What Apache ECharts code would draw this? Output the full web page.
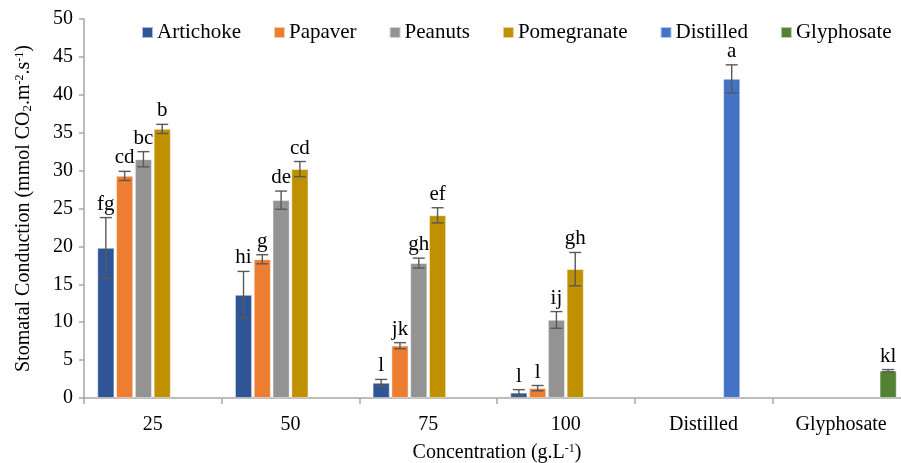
<!DOCTYPE html>
<html>
<head>
<meta charset="utf-8">
<script src="https://cdn.jsdelivr.net/npm/echarts@6/dist/echarts.min.js"></script>
<style>
  html, body { margin: 0; padding: 0; background: #fff; }
  #chart { width: 901px; height: 463px; }
</style>
</head>
<body>
<div id="chart"></div>
<script>
// data
const categories = ['25', '50', '75', '100', 'Distilled', 'Glyphosate']
const seriesNames = ['Artichoke', 'Papaver', 'Peanuts', 'Pomegranate', 'Distilled', 'Glyphosate']
const artichoke = [19.8, 13.6, 2.0, 0.7, null, null]
const papaver = [29.3, 18.3, 6.9, 1.3, null, null]
const peanuts = [31.5, 26.1, 17.8, 10.3, null, null]
const pomegranate = [35.5, 30.2, 24.1, 17.0, null, null]
const distilled = [null, null, null, null, 42.1, null]
const glyphosate = [null, null, null, null, null, 3.6]
const artichokeErr = [4.0, 3.1, 0.45, 0.4, null, null]
const papaverErr = [0.6, 0.6, 0.4, 0.35, null, null]
const peanutsErr = [1.0, 1.2, 0.65, 1.1, null, null]
const pomegranateErr = [0.6, 1.0, 1.0, 2.2, null, null]
const distilledErr = [null, null, null, null, 1.85, null]
const glyphosateErr = [null, null, null, null, null, 0.15]
const artichokeLetters = ['fg', 'hi', 'l', 'l', '', '']
const papaverLetters = ['cd', 'g', 'jk', 'l', '', '']
const peanutsLetters = ['bc', 'de', 'gh', 'ij', '', '']
const pomegranateLetters = ['b', 'cd', 'ef', 'gh', '', '']
const distilledLetters = ['', '', '', '', 'a', '']
const glyphosateLetters = ['', '', '', '', '', 'kl']

const values = [artichoke, papaver, peanuts, pomegranate, distilled, glyphosate]
const errors = [artichokeErr, papaverErr, peanutsErr, pomegranateErr, distilledErr, glyphosateErr]
const letters = [artichokeLetters, papaverLetters, peanutsLetters, pomegranateLetters, distilledLetters, glyphosateLetters]
const colors = ['#2F5597', '#ED7D31', '#939393', '#BF9000', '#4472C4', '#548235']

const FONT = '"Liberation Serif", "Times New Roman", serif'
const CAT_GAP = 0.194
const BAR_GAP = 0.106
const N = seriesNames.length

const chart = echarts.init(document.getElementById('chart'))

function errorItem (idx) {
  return function (params, api) {
    const v = api.value(1)
    const e = api.value(2)
    if (v == null || isNaN(v)) return null
    const band = api.size([1, 0])[0]
    const barW = band * (1 - CAT_GAP) / (N + (N - 1) * BAR_GAP)
    const pitch = barW * (1 + BAR_GAP)
    const c = api.coord([api.value(0), v])
    const x = c[0] + (idx - (N - 1) / 2) * pitch
    const top = api.coord([api.value(0), v + e])[1]
    const bot = api.coord([api.value(0), v - e])[1]
    const half = 6
    const st = { stroke: '#595959', lineWidth: 1.4 }
    const txt = letters[idx][params.dataIndex]
    return {
      type: 'group',
      children: [
        { type: 'line', shape: { x1: x, y1: top, x2: x, y2: bot }, style: st },
        { type: 'line', shape: { x1: x - half, y1: top, x2: x + half, y2: top }, style: st },
        { type: 'line', shape: { x1: x - half, y1: bot, x2: x + half, y2: bot }, style: st },
        {
          type: 'text',
          x: x,
          y: top - 3,
          style: { text: txt, font: '21px ' + FONT, fill: '#000', align: 'center', verticalAlign: 'bottom' }
        }
      ]
    }
  }
}

const barSeries = seriesNames.map((name, i) => ({
  name: name,
  type: 'bar',
  data: values[i],
  barGap: (BAR_GAP * 100) + '%',
  barCategoryGap: (CAT_GAP * 100) + '%',
  itemStyle: { color: colors[i], borderColor: 'rgba(255,255,255,0.6)', borderWidth: 0.8 },
  z: 2
}))

const errSeries = seriesNames.map((name, i) => ({
  type: 'custom',
  name: name + ' err',
  renderItem: errorItem(i),
  data: categories.map((c, k) => [k, values[i][k], errors[i][k]]),
  encode: { x: 0, y: 1 },
  z: 5,
  silent: true
}))

const option = {
  backgroundColor: '#fff',
  animation: false,
  color: colors,
  textStyle: { fontFamily: FONT },
  legend: {
    data: seriesNames,
    left: 136,
    top: 17,
    width: 800,
    itemWidth: 11,
    itemHeight: 11,
    itemGap: 32,
    icon: 'rect',
    textStyle: { fontFamily: FONT, fontSize: 21, color: '#000', padding: [0, 0, 0, -1] }
  },
  grid: { left: 84, top: 19, width: 826, height: 379, outerBoundsMode: 'none' },
  xAxis: {
    type: 'category',
    data: categories,
    name: 'Concentration (g.L{sup|-1})',
    nameLocation: 'middle',
    nameGap: 45,
    nameTextStyle: {
      fontFamily: FONT, fontSize: 20, color: '#000',
      rich: { sup: { fontFamily: FONT, fontSize: 12, color: '#000', verticalAlign: 'top', padding: [0, 0, 8, 0] } }
    },
    axisLine: { lineStyle: { color: '#A6A6A6', width: 1.5 } },
    axisTick: { show: true, length: 6, lineStyle: { color: '#A6A6A6', width: 1.5 } },
    axisLabel: { fontFamily: FONT, fontSize: 20, color: '#000', margin: 17 }
  },
  yAxis: {
    type: 'value',
    min: 0,
    max: 50,
    interval: 5,
    name: 'Stomatal Conduction (mmol CO{sub|2}.m{sup|-2}.s{sup|-1})',
    nameLocation: 'middle',
    nameGap: 50,
    nameTextStyle: {
      fontFamily: FONT, fontSize: 20, color: '#000',
      rich: {
        sub: { fontFamily: FONT, fontSize: 13, color: '#000', verticalAlign: 'bottom', padding: [6, 0, 0, 0] },
        sup: { fontFamily: FONT, fontSize: 12, color: '#000', verticalAlign: 'top', padding: [0, 0, 8, 0] }
      }
    },
    splitLine: { show: false },
    axisLine: { show: true, lineStyle: { color: '#A6A6A6', width: 1.5 } },
    axisTick: { show: true, length: 5, lineStyle: { color: '#A6A6A6', width: 1.5 } },
    axisLabel: { fontFamily: FONT, fontSize: 20, color: '#000', margin: 11 }
  },
  series: barSeries.concat(errSeries)
}

chart.setOption(option)
</script>
</body>
</html>
